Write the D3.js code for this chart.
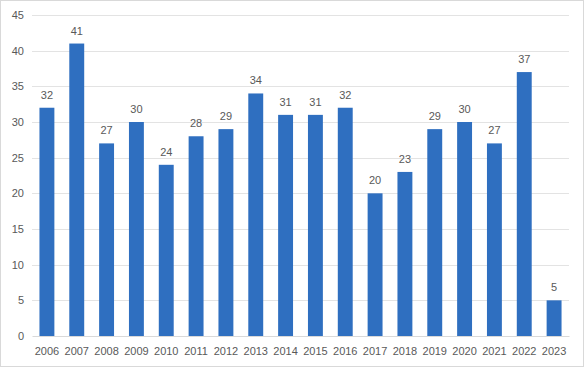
<!DOCTYPE html>
<html>
<head>
<meta charset="utf-8">
<script src="https://cdn.jsdelivr.net/npm/d3@7"></script>
<style>
  body { margin: 0; background: #fff; }
  text { font-family: "Liberation Sans", "DejaVu Sans", sans-serif; fill: #595959; }
</style>
</head>
<body>
<div id="chart"></div>
<script>
// data
var years = ["2006", "2007", "2008", "2009", "2010", "2011", "2012", "2013", "2014",
  "2015", "2016", "2017", "2018", "2019", "2020", "2021", "2022", "2023"]
var counts = [32, 41, 27, 30, 24, 28, 29, 34, 31, 31, 32, 20, 23, 29, 30, 27, 37, 5]
var yTicks = [0, 5, 10, 15, 20, 25, 30, 35, 40, 45]

var svgWidth = 584
var svgHeight = 367

var margin = { top: 15, right: 15, bottom: 31, left: 32 }
var width = svgWidth - margin.left - margin.right
var height = svgHeight - margin.top - margin.bottom

var svg = d3.select("#chart")
  .append("svg")
  .attr("width", svgWidth)
  .attr("height", svgHeight)

// outer frame
svg.append("rect")
  .attr("x", 0.5).attr("y", 0.5)
  .attr("width", svgWidth - 1).attr("height", svgHeight - 1)
  .attr("fill", "#fff")
  .attr("stroke", "#d9d9d9")

var chartGroup = svg.append("g")
  .attr("transform", `translate(${margin.left}, ${margin.top})`)

var x = d3.scaleBand()
  .domain(years)
  .range([0, width])
  .paddingInner(0.5)
  .paddingOuter(0.25)

var y = d3.scaleLinear()
  .domain([0, 45])
  .range([height, 0])

// gridlines
chartGroup.append("g")
  .selectAll("line")
  .data(yTicks.slice(1))
  .enter()
  .append("line")
  .attr("x1", 0)
  .attr("x2", width)
  .attr("y1", d => Math.round(y(d)) + 0.5)
  .attr("y2", d => Math.round(y(d)) + 0.5)
  .attr("stroke", "#e3e3e3")

// y axis labels
var leftAxis = d3.axisLeft(y).tickValues(yTicks).tickSize(0).tickPadding(8)
var yAxis = chartGroup.append("g").call(leftAxis)
yAxis.select(".domain").remove()
yAxis.selectAll("text")
  .style("font-size", "11px")
  .attr("fill", "#595959")

// bars
chartGroup.selectAll("rect.bar")
  .data(counts)
  .enter()
  .append("rect")
  .attr("class", "bar")
  .attr("x", (d, i) => x(years[i]))
  .attr("y", d => y(d))
  .attr("width", x.bandwidth())
  .attr("height", d => height - y(d))
  .attr("fill", "#2f6fc0")

// value labels
chartGroup.selectAll("text.val")
  .data(counts)
  .enter()
  .append("text")
  .attr("class", "val")
  .attr("x", (d, i) => x(years[i]) + x.bandwidth() / 2)
  .attr("y", d => y(d) - 9)
  .attr("text-anchor", "middle")
  .style("font-size", "11px")
  .text(d => d)

// x axis
var bottomAxis = d3.axisBottom(x).tickSize(0).tickPadding(11)
var xAxis = chartGroup.append("g")
  .attr("transform", `translate(0, ${height})`)
  .call(bottomAxis)
xAxis.select(".domain")
  .attr("stroke", "#d9d9d9")
xAxis.selectAll("text")
  .style("font-size", "11px")
  .attr("fill", "#595959")
</script>
</body>
</html>
